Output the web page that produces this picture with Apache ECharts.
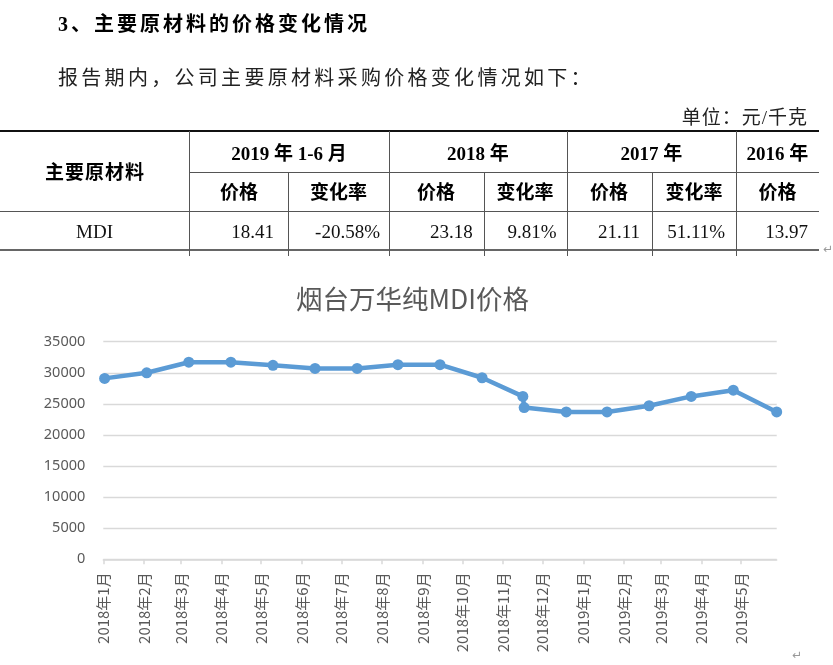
<!DOCTYPE html>
<html><head><meta charset="utf-8">
<script src="https://cdn.jsdelivr.net/npm/echarts@6/dist/echarts.min.js"></script>
<style>
html,body{margin:0;padding:0;background:#fff;width:833px;height:665px;overflow:hidden}
#chart{position:absolute;left:0;top:0;width:833px;height:665px}
#doc{position:absolute;left:0;top:0;width:833px;height:665px;pointer-events:none}
.t{position:absolute;white-space:nowrap;color:#111;height:30px;line-height:30px;font-family:"Liberation Serif","Noto Sans CJK SC",serif}
.ln{position:absolute}
</style></head><body>
<div id="chart"></div>
<div id="doc"></div>
<script>
// ---- chart data ----
const chartTitle = '烟台万华纯MDI价格';
const tickLabels = ['2018年1月','2018年2月','2018年3月','2018年4月','2018年5月','2018年6月','2018年7月','2018年8月','2018年9月','2018年10月','2018年11月','2018年12月','2019年1月','2019年2月','2019年3月','2019年4月','2019年5月'];
const tickDates = ['2018-01-01','2018-02-01','2018-03-01','2018-04-01','2018-05-01','2018-06-01','2018-07-01','2018-08-01','2018-09-01','2018-10-01','2018-11-01','2018-12-01','2019-01-01','2019-02-01','2019-03-01','2019-04-01','2019-05-01'];
const pointDates = ['2018-01-02','2018-02-03','2018-03-07','2018-04-08','2018-05-10','2018-06-11','2018-07-13','2018-08-13','2018-09-14','2018-10-16','2018-11-16','2018-11-17','2018-12-19','2019-01-19','2019-02-20','2019-03-24','2019-04-25','2019-05-28'];
const prices = [29100,30000,31700,31700,31200,30700,30700,31300,31300,29200,26200,24400,23700,23700,24700,26200,27200,23700];
const axisStart = '2018-01-01';
const axisEnd = '2019-05-28';

// ---- document text data ----
const heading = '3、主要原材料的价格变化情况';
const paragraph = '报告期内，公司主要原材料采购价格变化情况如下：';
const unitText = '单位：元/千克';
const periodHeaders = ['2019 年 1-6 月','2018 年','2017 年','2016 年'];
const subHeaders = ['价格','变化率','价格','变化率','价格','变化率','价格'];
const materialHeader = '主要原材料';
const materialName = 'MDI';
const rowValues = ['18.41','-20.58%','23.18','9.81%','21.11','51.11%','13.97'];

function ts(s){const p=s.split('-').map(Number);return Date.UTC(p[0],p[1]-1,p[2]);}

// ---- build document part ----
const doc = document.getElementById('doc');
function addText(txt,x,y,align,style){
  const d=document.createElement('div');d.className='t';d.textContent=txt;
  if(align==='center'){d.style.left=(x-200)+'px';d.style.width='400px';d.style.textAlign='center';}
  else if(align==='right'){d.style.left=(x-400)+'px';d.style.width='400px';d.style.textAlign='right';}
  else {d.style.left=x+'px';}
  d.style.top=(y-15)+'px';
  Object.assign(d.style,style||{});
  doc.appendChild(d);
}
function addLine(x,y,w,h,c){
  const d=document.createElement('div');d.className='ln';
  Object.assign(d.style,{left:x+'px',top:y+'px',width:w+'px',height:h+'px',background:c});
  doc.appendChild(d);
}
addText(heading,58,24,'left',{fontSize:'20px',fontWeight:'bold',letterSpacing:'3px',color:'#000'});
addText(paragraph,58,77,'left',{fontSize:'20px',letterSpacing:'3.3px',color:'#222',fontFamily:'"Noto Sans CJK SC",sans-serif'});
addText(unitText,808,118,'right',{fontSize:'19px',letterSpacing:'1px',color:'#222'});
// table lines
addLine(0,129.5,819,2.5,'#111');
addLine(190,172,629,1,'#555');
addLine(0,210.5,819,1.2,'#555');
addLine(0,249,819,2,'#666');
[[189,131],[288,172],[389,131],[483.5,172],[566.5,131],[651.5,172],[736,131]].forEach(v=>addLine(v[0],v[1],1,256-v[1],'#555'));
// table headers
const bold={fontSize:'19px',fontWeight:'bold',color:'#000'};
addText(materialHeader,95,173,'center',Object.assign({letterSpacing:'1px'},bold));
[289,478,651.5,777.5].forEach((x,i)=>addText(periodHeaders[i],x,154,'center',bold));
[239,338.5,436,525,609,694,777.5].forEach((x,i)=>addText(subHeaders[i],x,193,'center',bold));
const norm={fontSize:'19px',color:'#111'};
addText(materialName,94.5,231.5,'center',norm);
[274,380,472.7,556.7,640,725,808].forEach((x,i)=>addText(rowValues[i],x,231.5,'right',norm));
addText('↵',828,249,'center',{fontSize:'12px',color:'#999',fontFamily:'"DejaVu Sans"'});
addText('↵',797,655,'center',{fontSize:'12px',color:'#999',fontFamily:'"DejaVu Sans"'});

// ---- chart ----
const chart = echarts.init(document.getElementById('chart'),null,{renderer:'canvas'});
const tickVals = tickDates.map(ts);
chart.setOption({
  animation:false,
  backgroundColor:'transparent',
  title:{text:chartTitle,left:412.5,textAlign:'center',top:286,padding:0,
    textStyle:{fontSize:26.5,fontWeight:'normal',color:'#595959',fontFamily:'"Noto Sans CJK SC",sans-serif'}},
  grid:{left:103.3,right:56.3,top:341.7,bottom:105.7,containLabel:false,outerBoundsMode:'none'},
  xAxis:{type:'value',min:ts(axisStart),max:ts(axisEnd),
    axisLine:{show:true,lineStyle:{color:'#d9d9d9',width:1.5}},
    axisTick:{show:true,length:5,lineStyle:{color:'#d9d9d9',width:1.5},customValues:tickVals},
    splitLine:{show:false},minorTick:{show:false},
    axisLabel:{rotate:90,margin:13,fontSize:15,color:'#595959',fontFamily:'"Noto Sans CJK SC",sans-serif',
      overflow:'none',hideOverlap:false,
      customValues:tickVals,
      formatter:function(v){const i=tickVals.indexOf(+v);return i>=0?tickLabels[i]:'';}}
  },
  yAxis:{type:'value',min:0,max:35000,interval:5000,
    axisLine:{show:false},axisTick:{show:false},
    splitLine:{lineStyle:{color:'#d9d9d9',width:1.3}},
    axisLabel:{margin:18,fontSize:14.5,color:'#595959',fontFamily:'"Noto Sans",sans-serif',
      formatter:function(v){return String(v);}}
  },
  series:[{type:'line',data:pointDates.map((d,i)=>[ts(d),prices[i]]),
    symbol:'circle',symbolSize:11,
    lineStyle:{color:'#5B9BD5',width:4.5},
    itemStyle:{color:'#5B9BD5',borderWidth:0}
  }]
});
</script>
</body></html>
